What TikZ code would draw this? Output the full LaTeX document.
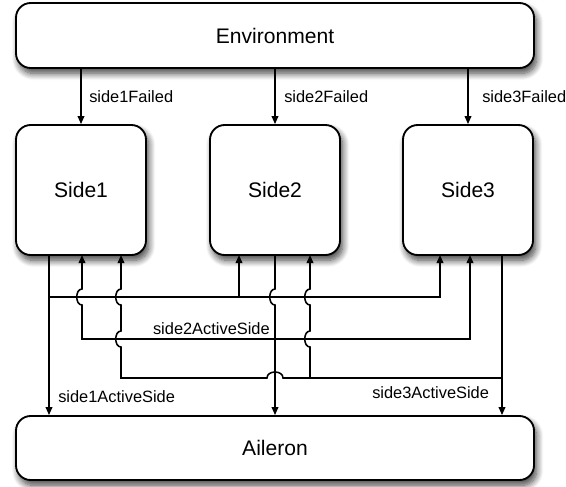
\documentclass[tikz,border=0pt]{standalone}
\usepackage{fontspec}
\setmainfont{Liberation Sans}
\usepackage{tikz}
\usetikzlibrary{arrows.meta,shadows.blur}

\begin{document}
\begin{tikzpicture}[x=0.75pt,y=0.75pt,yscale=-1,xscale=1,
    blk/.style={draw, line width=1.4pt, fill=white, rounded corners=11pt, inner sep=0pt,
        blur shadow={shadow xshift=2pt, shadow yshift=-4pt, shadow blur radius=5pt, shadow blur steps=10, shadow opacity=75},
        font=\fontsize{15.8}{19}\selectfont},
    wire/.style={line width=1.15pt, -{Triangle[length=6pt,width=5pt]}},
    lbl/.style={inner sep=0.75pt, font=\fontsize{12.3}{14}\selectfont}]
    \useasboundingbox (0,0) rectangle (566,486);

    %Shape: Rounded Rect [id:env]
    \node[blk, minimum width=388.5pt, minimum height=48.75pt] (env) at (275,35.5) {Environment};
    %Shape: Rounded Rect [id:side1]
    \node[blk, minimum width=97.5pt, minimum height=97.5pt] (side1) at (81,190) {Side1};
    %Shape: Rounded Rect [id:side2]
    \node[blk, minimum width=97.5pt, minimum height=97.5pt] (side2) at (275,190) {Side2};
    %Shape: Rounded Rect [id:side3]
    \node[blk, minimum width=97.5pt, minimum height=97.5pt] (side3) at (468,190) {Side3};
    %Shape: Rounded Rect [id:aileron]
    \node[blk, minimum width=388.5pt, minimum height=48pt] (aileron) at (275,448) {Aileron};

    % ports on the side boxes
    \coordinate (out1) at (49,255);
    \coordinate (in12) at (82,255);
    \coordinate (in13) at (121,255);
    \coordinate (out2) at (275,255);
    \coordinate (in21) at (239,255);
    \coordinate (in23) at (310,255);
    \coordinate (out3) at (502,255);
    \coordinate (in31) at (440,255);
    \coordinate (in32) at (470,255);
    % bus levels
    \coordinate (bus1) at (0,297);
    \coordinate (bus2) at (0,339);
    \coordinate (bus3) at (0,378);

    %Straight Lines: failures
    \draw[wire] (env.south -| side1.north) -- (side1.north);
    \draw[wire] (env.south -| side2.north) -- (side2.north);
    \draw[wire] (env.south -| side3.north) -- (side3.north);

    %Straight Lines: side1 active side
    \draw[wire] (out1) -- (out1 |- aileron.north);
    \draw[wire] (out1 |- bus1) -- (in31 |- bus1) -- (in31);
    \draw[wire] (in21 |- bus1) -- (in21);

    %Straight Lines: side2 active side
    \draw[wire] (out2) -- (275,289) .. controls (268,289) and (268,305) .. (275,305) -- (out2 |- aileron.north);
    \draw[wire] (out2 |- bus2) -- (in32 |- bus2) -- (in32);
    \draw[wire] (out2 |- bus2) -- (in12 |- bus2) -- (82,305) .. controls (75,305) and (75,289) .. (82,289) -- (in12);

    %Straight Lines: side3 active side
    \draw[wire] (out3) -- (out3 |- aileron.north);
    \draw[wire] (out3 |- bus3) -- (283,378) .. controls (283,370) and (267,370) .. (267,378) -- (in13 |- bus3)
        -- (121,347) .. controls (114,347) and (114,331) .. (121,331)
        -- (121,305) .. controls (114,305) and (114,289) .. (121,289) -- (in13);
    \draw[wire] (in23 |- bus3) -- (310,347) .. controls (303,347) and (303,331) .. (310,331)
        -- (310,305) .. controls (303,305) and (303,289) .. (310,289) -- (in23);

    % Text Node
    \node[lbl, anchor=west] (f1) at (88,96.5) {side1Failed};
    % Text Node
    \node[lbl, anchor=west] (f2) at (283,96.5) {side2Failed};
    % Text Node
    \node[lbl, anchor=west] (f3) at (481,96.5) {side3Failed};
    % Text Node
    \node[lbl, anchor=west] (a1) at (57,397) {side1ActiveSide};
    % Text Node
    \node[lbl, anchor=east] (a2) at (271,329) {side2ActiveSide};
    % Text Node
    \node[lbl, anchor=west] (a3) at (371,393) {side3ActiveSide};

\end{tikzpicture}
\end{document}
